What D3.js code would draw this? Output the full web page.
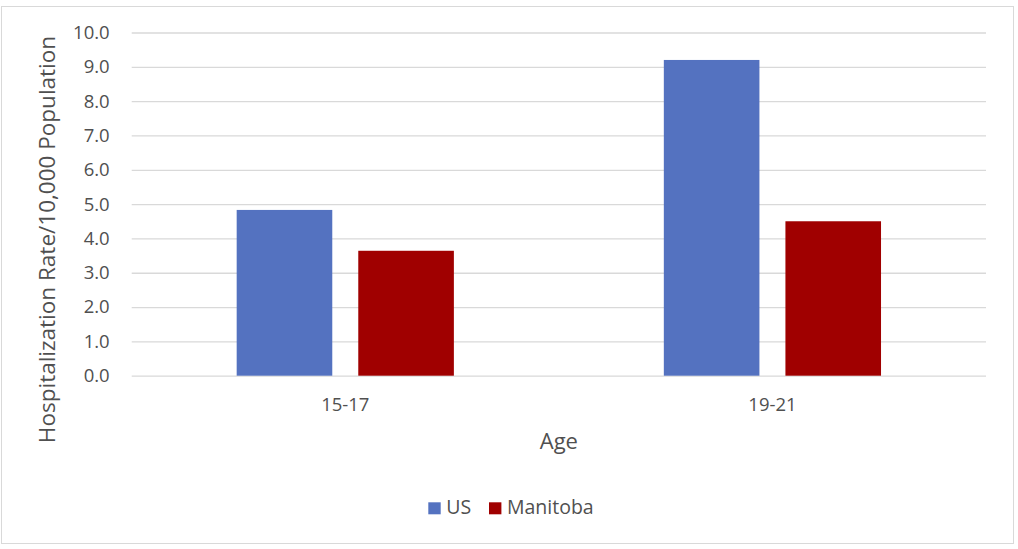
<!DOCTYPE html>
<html>
<head>
<meta charset="utf-8">
<script src="https://cdn.jsdelivr.net/npm/d3@7"></script>
<style>
html,body{margin:0;padding:0;background:#fff;}
svg text{font-family:"Open Sans","Liberation Sans",sans-serif;fill:#505050;}
</style>
</head>
<body>
<svg id="chart" width="1018" height="549"></svg>
<script>
const categories = ["15-17", "19-21"];
const seriesNames = ["US", "Manitoba"];
const usValues = [4.83, 9.2];
const manitobaValues = [3.64, 4.5];
const yTicks = [0, 1, 2, 3, 4, 5, 6, 7, 8, 9, 10];
const colors = ["#5472c0", "#a00000"];

const svg = d3.select("#chart");
const W = 1018, H = 549;
const m = {left: 131.7, right: 1018 - 986, top: 32.5, bottom: 549 - 375.7};

// frame
svg.append("rect").attr("x", 1.5).attr("y", 6.5).attr("width", 1012).attr("height", 537)
  .attr("fill", "#fff").attr("stroke", "#d9d9d9").attr("stroke-width", 1);

const x0 = d3.scaleBand().domain(categories).range([m.left, W - m.right]);
const barW = 95.6, gap = 26;
const groupSpan = 2 * barW + gap;
const x1 = d3.scaleBand().domain(seriesNames)
  .range([0, groupSpan]).paddingInner(gap / (barW + gap));
const y = d3.scaleLinear().domain([0, 10]).range([H - m.bottom, m.top]);

// grid
const yAxis = d3.axisLeft(y).tickValues(yTicks).tickFormat(d3.format(".1f"))
  .tickSize(-(W - m.left - m.right)).tickPadding(22);
const ga = svg.append("g").attr("transform", `translate(${m.left},0)`).call(yAxis);
ga.select(".domain").remove();
ga.selectAll(".tick line").attr("stroke", "#d9d9d9").attr("stroke-width", 1.3);
ga.selectAll(".tick text").attr("font-size", 18.5).attr("fill", "#505050")
  .style("font-family", "'Open Sans','Liberation Sans',sans-serif");

const data = categories.map((c, i) => ({cat: c, vals: [usValues[i], manitobaValues[i]]}));
const groups = svg.append("g").selectAll("g").data(data).join("g")
  .attr("transform", d => `translate(${x0(d.cat) + (x0.bandwidth() - groupSpan) / 2},0)`);
groups.selectAll("rect").data(d => d.vals.map((v, j) => ({s: seriesNames[j], v, j})))
  .join("rect")
  .attr("x", d => x1(d.s))
  .attr("width", x1.bandwidth())
  .attr("y", d => y(d.v))
  .attr("height", d => y(0) - y(d.v))
  .attr("fill", d => colors[d.j]);

// x axis labels
const xAxis = d3.axisBottom(x0).tickSize(0).tickPadding(22);
const gx = svg.append("g").attr("transform", `translate(0,${H - m.bottom})`).call(xAxis);
gx.select(".domain").remove();
gx.selectAll(".tick text").attr("font-size", 18.5).attr("fill", "#505050")
  .style("font-family", "'Open Sans','Liberation Sans',sans-serif");

// axis titles
svg.append("text").attr("x", (m.left + W - m.right) / 2).attr("y", 449)
  .attr("text-anchor", "middle").attr("font-size", 22).text("Age");
svg.append("text").attr("transform", `translate(55,${(42 + 437) / 2}) rotate(-90)`)
  .attr("text-anchor", "middle").attr("font-size", 22.5).text("Hospitalization Rate/10,000 Population");

// legend
const legendX = [428.3, 489];
const lg = svg.append("g").selectAll("g").data(seriesNames).join("g")
  .attr("transform", (d, i) => `translate(${legendX[i]},502.3)`);
lg.append("rect").attr("width", 12.4).attr("height", 12).attr("fill", (d, i) => colors[i]);
lg.append("text").attr("x", 18).attr("y", 12).attr("font-size", 19.5).text(d => d);
</script>
</body>
</html>
